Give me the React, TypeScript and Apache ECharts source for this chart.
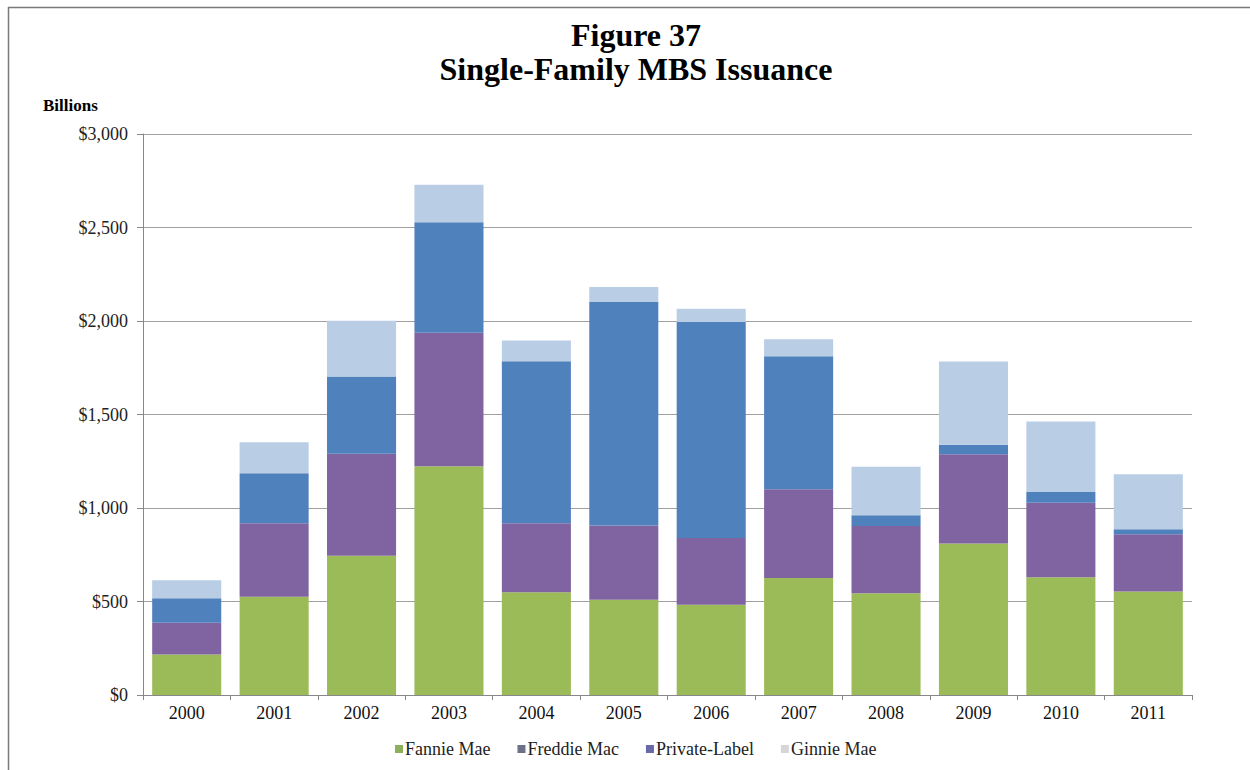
import React, { useEffect, useRef } from "react";
import * as echarts from "echarts";

const years = ["2000", "2001", "2002", "2003", "2004", "2005", "2006", "2007", "2008", "2009", "2010", "2011"];
const fannieMae = [216, 526, 744, 1223, 549, 510, 483, 626, 544, 810, 630, 553];
const freddieMac = [171, 393, 546, 714, 369, 397, 356, 474, 360, 477, 398, 306];
const privateLabel = [130, 267, 413, 591, 867, 1195, 1156, 712, 57, 51, 57, 27];
const ginnieMae = [97, 165, 299, 200, 111, 80, 71, 90, 260, 445, 378, 294];
const yTicks = [0, 500, 1000, 1500, 2000, 2500, 3000];

const serif = "'Liberation Serif', 'Times New Roman', serif";

export default function App() {
  const ref = useRef<HTMLDivElement>(null);
  useEffect(() => {
    if (!ref.current) return;
    const chart = echarts.init(ref.current, null, { renderer: "svg" });
    const mk = (name: string, data: number[], color: string) => ({
      name,
      type: "bar",
      stack: "total",
      data,
      barCategoryGap: "21%",
      itemStyle: { color },
    });
    chart.setOption({
      animation: false,
      backgroundColor: "#ffffff",
      textStyle: { fontFamily: serif },
      title: {
        text: "Figure 37\nSingle-Family MBS Issuance",
        left: 631,
        textAlign: "center",
        top: 13,
        textStyle: { fontFamily: serif, fontSize: 32, fontWeight: "bold", color: "#000", lineHeight: 34 },
      },
      graphic: [
        { type: "line", shape: { x1: 8, y1: 7.5, x2: 1250, y2: 7.5 }, style: { stroke: "#7a7a7a", lineWidth: 1.5 } },
        { type: "line", shape: { x1: 8.5, y1: 7, x2: 8.5, y2: 770 }, style: { stroke: "#7a7a7a", lineWidth: 1.5 } },
        {
          type: "text",
          left: 43,
          top: 97,
          style: { text: "Billions", font: `bold 17px ${serif}`, fill: "#000" },
        },
      ],
      legend: {
        bottom: 7,
        left: 390,
        itemWidth: 8,
        itemHeight: 8,
        itemGap: 27,
        icon: "rect",
        textStyle: { fontFamily: serif, fontSize: 18, color: "#222", padding: [0, 0, 0, -3] },
        data: [
          { name: "Fannie Mae", itemStyle: { color: "#8fb05a" } },
          { name: "Freddie Mac", itemStyle: { color: "#6e7088" } },
          { name: "Private-Label", itemStyle: { color: "#6869a8" } },
          { name: "Ginnie Mae", itemStyle: { color: "#d6d6d6" } },
        ],
      },
      grid: { left: 143, right: 58, top: 134, bottom: 75, containLabel: false },
      xAxis: {
        type: "category",
        data: years,
        axisLine: { lineStyle: { color: "#888", width: 1 } },
        axisTick: { show: true, length: 5, lineStyle: { color: "#888" } },
        axisLabel: { fontFamily: serif, fontSize: 18, color: "#111", margin: 9 },
      },
      yAxis: {
        type: "value",
        min: 0,
        max: 3000,
        interval: 500,
        axisLine: { show: true, lineStyle: { color: "#888" } },
        axisTick: { show: true, length: 6, inside: false, lineStyle: { color: "#888" } },
        splitLine: { lineStyle: { color: "#a0a0a0", width: 1 } },
        axisLabel: {
          fontFamily: serif,
          fontSize: 18,
          color: "#222",
          margin: 15,
          formatter: (v: number) => (yTicks.includes(v) ? "$" + v.toLocaleString("en-US") : ""),
        },
      },
      series: [
        mk("Fannie Mae", fannieMae, "#9bbb59"),
        mk("Freddie Mac", freddieMac, "#8064a2"),
        mk("Private-Label", privateLabel, "#4f81bd"),
        mk("Ginnie Mae", ginnieMae, "#b9cde5"),
      ],
    });
    return () => chart.dispose();
  }, []);
  return (
    <div
      ref={ref}
      style={{ position: "fixed", left: 0, top: 0, width: 1250, height: 770, background: "#fff" }}
    />
  );
}
